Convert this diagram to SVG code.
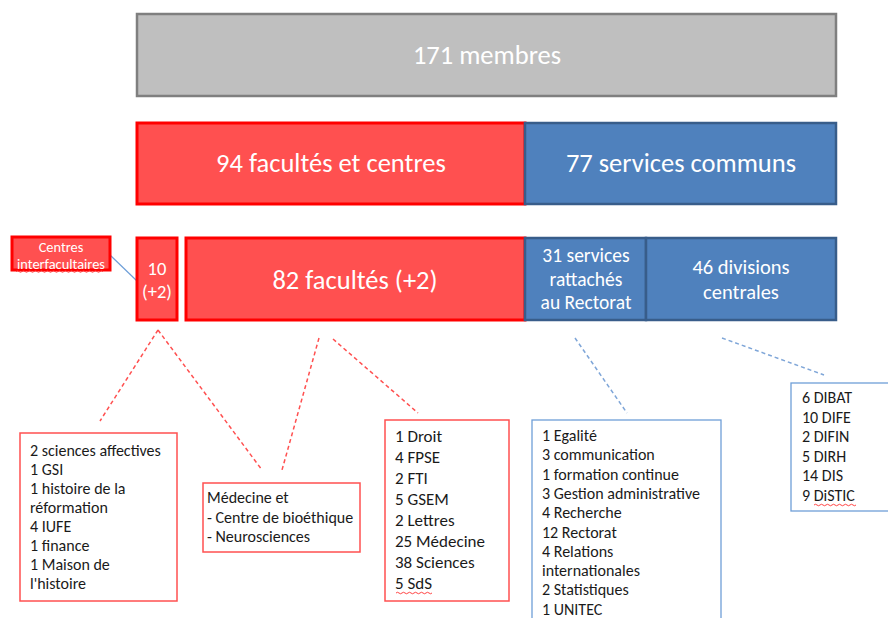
<svg xmlns="http://www.w3.org/2000/svg" width="888" height="618" viewBox="0 0 888 618">
<style>
text{font-family:Carlito,"Liberation Sans",Arial,sans-serif}
.w{fill:#fff;text-anchor:middle}
.big{font-size:26.5px}
.mid{font-size:20.5px}
.l{fill:#1a1a1a;font-size:16px}
.l17{fill:#1a1a1a;font-size:17px}
.grey{fill:#BFBFBF;stroke:#7F7F7F;stroke-width:2.5}
.red{fill:#FF5050;stroke:#FF0000;stroke-width:3}
.blue{fill:#4F81BD;stroke:#385D8A;stroke-width:2.5}
.rb{fill:#fff;stroke:#FF5050;stroke-width:1.5}
.bb{fill:#fff;stroke:#6F9FD8;stroke-width:1.3}
.dr{stroke:#FF5050;stroke-width:1.5;stroke-dasharray:4 3;fill:none}
.db{stroke:#7FA6D8;stroke-width:1.5;stroke-dasharray:4 3;fill:none}
.sq{stroke:#FF3030;stroke-width:0.9;fill:none}
</style>
<rect width="888" height="618" fill="#fff"/>
<g id="connectors">
<line x1="110" y1="255" x2="137" y2="281" stroke="#6F9FD8" stroke-width="1.2"/>
<line class="dr" x1="158" y1="330" x2="100" y2="421"/>
<line class="dr" x1="158" y1="330" x2="262" y2="470"/>
<line class="dr" x1="319" y1="338" x2="282" y2="470"/>
<line class="dr" x1="333" y1="339" x2="418" y2="413"/>
<line class="db" x1="575" y1="338" x2="627" y2="413"/>
<line class="db" x1="722" y1="338" x2="824" y2="375"/>
</g>
<g id="n-membres">
<rect class="grey" x="137" y="14" width="699" height="82"/>
<text class="w big" x="487" y="64">171 membres</text>
</g>
<g id="n-facultes-centres">
<rect class="red" x="137" y="123" width="388" height="81"/>
<text class="w big" x="331" y="172">94 facultés et centres</text>
</g>
<g id="n-services-communs">
<rect class="blue" x="525" y="123" width="311" height="81"/>
<text class="w big" x="681" y="172">77 services communs</text>
</g>
<g id="n-centres-inter">
<rect class="red" x="12" y="237" width="98" height="33" stroke-width="2.5"/>
<text class="w" x="61" y="252" font-size="14.4">Centres</text>
<text class="w" x="61" y="269" font-size="14.4">interfacultaires</text>
<path class="sq" d="M16 271.5 q1.5 -1.5 3 0 t3 0 t3 0 t3 0 t3 0 t3 0 t3 0 t3 0 t3 0 t3 0 t3 0 t3 0 t3 0 t3 0 t3 0 t3 0 t3 0 t3 0 t3 0 t3 0 t3 0 t3 0 t3 0 t3 0 t3 0 t3 0 t3 0 t3 0 t3 0"/>
</g>
<g id="n-10">
<rect class="red" x="137" y="238" width="40" height="82"/>
<text class="w" x="157" y="275" font-size="18.5">10</text>
<text class="w" x="157" y="298" font-size="18.5">(+2)</text>
</g>
<g id="n-82">
<rect class="red" x="186" y="238" width="339" height="82"/>
<text class="w big" x="355" y="289">82 facultés (+2)</text>
</g>
<g id="n-31">
<rect class="blue" x="525" y="238" width="121" height="82"/>
<text class="w" x="586" y="262" font-size="19.5">31 services</text>
<text class="w" x="586" y="285.5" font-size="19.5">rattachés</text>
<text class="w" x="586" y="309" font-size="19.5">au Rectorat</text>
</g>
<g id="n-46">
<rect class="blue" x="646" y="238" width="190" height="82"/>
<text class="w mid" x="741" y="274">46 divisions</text>
<text class="w mid" x="741" y="299">centrales</text>
</g>
<g id="n-centres-list">
<rect class="rb" x="20" y="433" width="157" height="168"/>
<text class="l" x="30" y="456">2 sciences affectives</text>
<text class="l" x="30" y="475">1 GSI</text>
<text class="l" x="30" y="494">1 histoire de la</text>
<text class="l" x="30" y="513">réformation</text>
<text class="l" x="30" y="531.5">4 IUFE</text>
<text class="l" x="30" y="550.5">1 finance</text>
<text class="l" x="30" y="569.5">1 Maison de</text>
<text class="l" x="30" y="588.5">l'histoire</text>
</g>
<g id="n-medecine">
<rect class="rb" x="203" y="483" width="157" height="69"/>
<text class="l" x="207" y="503">Médecine et</text>
<text class="l" x="207" y="522.5">- Centre de bioéthique</text>
<text class="l" x="207" y="542">- Neurosciences</text>
</g>
<g id="n-facultes-list">
<rect class="rb" x="385" y="420" width="124" height="181"/>
<text class="l17" x="395" y="442">1 Droit</text>
<text class="l17" x="395" y="463">4 FPSE</text>
<text class="l17" x="395" y="484">2 FTI</text>
<text class="l17" x="395" y="505">5 GSEM</text>
<text class="l17" x="395" y="526">2 Lettres</text>
<text class="l17" x="395" y="547">25 Médecine</text>
<text class="l17" x="395" y="568">38 Sciences</text>
<text class="l17" x="395" y="589">5 SdS</text>
<path class="sq" d="M396 593 q1.5 -1.5 3 0 t3 0 t3 0 t3 0 t3 0 t3 0 t3 0 t3 0 t3 0 t3 0 t3 0 t3 0"/>
</g>
<g id="n-services-list">
<rect class="bb" x="532" y="420" width="189" height="200"/>
<text class="l" x="542" y="441">1 Egalité</text>
<text class="l" x="542" y="460.3">3 communication</text>
<text class="l" x="542" y="479.6">1 formation continue</text>
<text class="l" x="542" y="498.9">3 Gestion administrative</text>
<text class="l" x="542" y="518.2">4 Recherche</text>
<text class="l" x="542" y="537.5">12 Rectorat</text>
<text class="l" x="542" y="556.8">4 Relations</text>
<text class="l" x="542" y="576.1">internationales</text>
<text class="l" x="542" y="595.4">2 Statistiques</text>
<text class="l" x="542" y="614.7">1 UNITEC</text>
</g>
<g id="n-divisions-list">
<rect class="bb" x="791" y="383" width="100" height="128"/>
<text class="l" x="802" y="403">6 DIBAT</text>
<text class="l" x="802" y="422.6">10 DIFE</text>
<text class="l" x="802" y="442.2">2 DIFIN</text>
<text class="l" x="802" y="461.8">5 DIRH</text>
<text class="l" x="802" y="481.4">14 DIS</text>
<text class="l" x="802" y="501">9 DiSTIC</text>
<path class="sq" d="M814 505 q1.5 -1.5 3 0 t3 0 t3 0 t3 0 t3 0 t3 0 t3 0 t3 0 t3 0 t3 0 t3 0 t3 0 t3 0 t3 0"/>
</g>
</svg>
